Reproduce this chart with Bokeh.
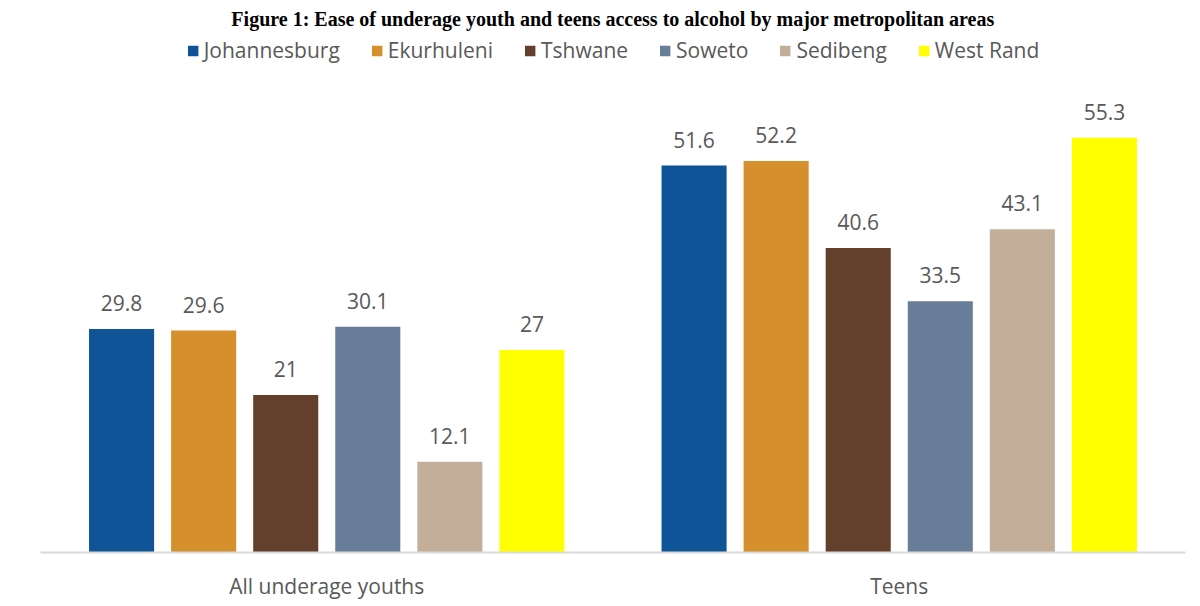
from bokeh.plotting import figure
from bokeh.models import (Range1d, Legend, LegendItem, ColumnDataSource, LabelSet,
                          FixedTicker, Title)
from bokeh.core.properties import value
from bokeh.embed import file_html
from bokeh.resources import INLINE

groups = ["All underage youths", "Teens"]
areas = ["Johannesburg", "Ekurhuleni", "Tshwane", "Soweto", "Sedibeng", "West Rand"]
youths = [29.8, 29.6, 21, 30.1, 12.1, 27]
teens = [51.6, 52.2, 40.6, 33.5, 43.1, 55.3]
colors = ["#0F5496", "#D58F2C", "#643F2B", "#687D97", "#C3AE9A", "#FFFF00"]

TEXT = "#595959"
FONT = "Open Sans"
FS = "21px"
pitch = 82 / 572
bar_w = 65 / 572

p = figure(width=1200, height=606, output_backend="svg", toolbar_location=None,
           x_range=Range1d(-0.5, 1.5), y_range=Range1d(0, 69.6),
           min_border_left=40, min_border_right=15, min_border_top=30, min_border_bottom=54)

title = Title(text="Figure 1: Ease of underage youth and teens access to alcohol by major metropolitan areas",
              align="center", text_font="Liberation Serif", text_font_size="20px",
              text_font_style="bold", text_color="#000000", standoff=2)
p.title = title

items = []
for i, (name, col) in enumerate(zip(areas, colors)):
    vals = [youths[i], teens[i]]
    xs = [g + (i - 2.5) * pitch for g in range(len(groups))]
    src = ColumnDataSource(dict(x=xs, top=vals, lab=[f"{v:g}" for v in vals]))
    r = p.vbar(x="x", top="top", width=bar_w, bottom=0, source=src,
               fill_color=col, line_color=None)
    items.append(LegendItem(label=name, renderers=[r]))
    p.add_layout(LabelSet(x="x", y="top", text="lab", source=src, text_align="center",
                          text_baseline="bottom", y_offset=18, text_font=value(FONT),
                          text_font_size=value(FS), text_color=TEXT))

legend = Legend(items=items, orientation="horizontal", location="top_center",
                border_line_color=None, background_fill_alpha=0,
                label_text_font=FONT, label_text_font_size=FS, label_text_color=TEXT,
                glyph_width=13, glyph_height=13, label_standoff=5, spacing=30,
                padding=0, margin=6)
p.add_layout(legend, "center")

p.yaxis.visible = False
p.xgrid.visible = False
p.ygrid.visible = False
p.outline_line_color = None
p.xaxis.ticker = FixedTicker(ticks=[0, 1])
p.xaxis.major_label_overrides = {0: groups[0], 1: groups[1]}
p.xaxis.major_tick_line_color = None
p.xaxis.minor_tick_line_color = None
p.xaxis.axis_line_color = "#D9D9D9"
p.xaxis.axis_line_width = 2
p.xaxis.major_label_standoff = 13
p.xaxis.major_label_text_font = FONT
p.xaxis.major_label_text_font_size = FS
p.xaxis.major_label_text_color = TEXT

open("out.html", "w").write(file_html(p, INLINE))
